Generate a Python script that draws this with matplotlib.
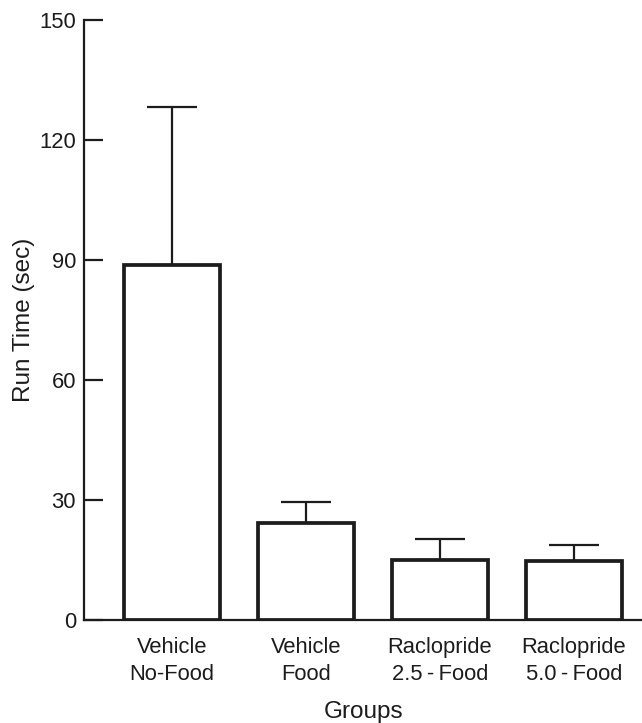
import numpy as np
import matplotlib
matplotlib.use("Agg")
import matplotlib.pyplot as plt

plt.rcParams['font.family'] = ['Liberation Sans', 'DejaVu Sans']

# data
groups = ["Vehicle\nNo-Food", "Vehicle\nFood",
          "Raclopride\n2.5\u2009-\u2009Food", "Raclopride\n5.0\u2009-\u2009Food"]
run_time = [88.7, 24.2, 15.0, 14.8]
sem = [39.5, 5.2, 5.3, 4.0]
yticks = [0, 30, 60, 90, 120, 150]

ink = "#1c1c1c"

fig = plt.figure(figsize=(6.42, 7.23), dpi=100)
ax = fig.add_axes([0.1313, 0.1425, 0.8687, 0.8305])

x = np.arange(len(groups))
ax.bar(x, run_time, width=0.715, facecolor="white", edgecolor=ink,
       linewidth=2.7, zorder=3)
ax.errorbar(x, run_time, yerr=[np.zeros(len(sem)), sem], fmt="none",
            ecolor=ink, elinewidth=1.6, capsize=18, capthick=1.6, zorder=2)

ax.set_xlim(-0.654, 3.51)
ax.set_ylim(0, 150)
ax.set_yticks(yticks)
ax.set_xticks(x)
ax.set_xticklabels(groups, fontsize=15.8, color=ink, linespacing=1.4)

for s in ["top", "right"]:
    ax.spines[s].set_visible(False)
for s in ["left", "bottom"]:
    ax.spines[s].set_linewidth(1.6)
    ax.spines[s].set_color(ink)

ax.tick_params(axis="y", direction="in", length=14, width=1.6, color=ink,
               labelsize=15.8, labelcolor=ink, pad=6)
ax.tick_params(axis="x", length=0, pad=12)

ax.set_ylabel("Run Time (sec)", fontsize=17.5, color=ink)
ax.yaxis.set_label_coords(-0.088, 0.5)
ax.set_xlabel("Groups", fontsize=17.5, color=ink)
ax.xaxis.set_label_coords(0.5, -0.135)

fig.savefig("out.png", dpi=100)
